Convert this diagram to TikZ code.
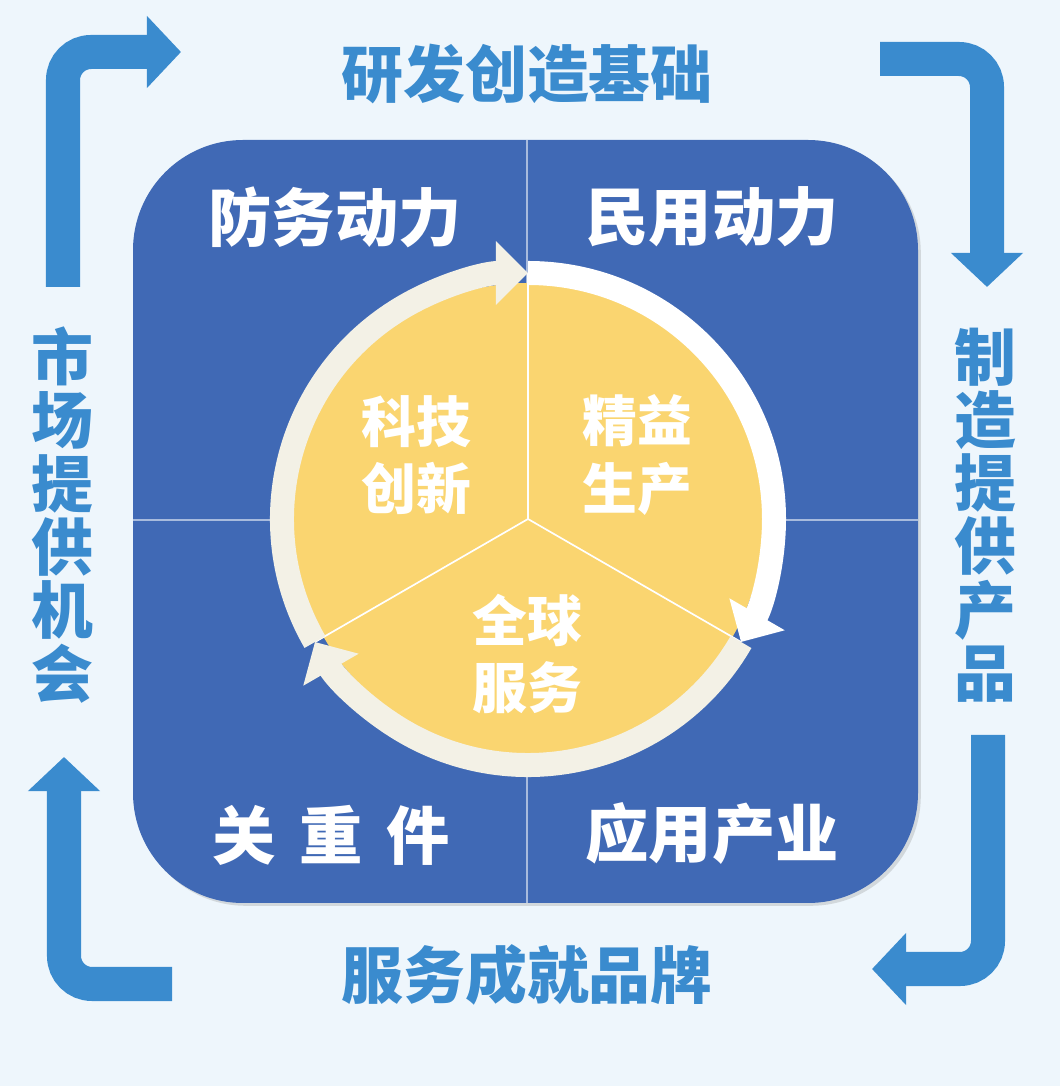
\documentclass[tikz,border=0pt]{standalone}
\usepackage{fontspec}
\newfontfamily\cjk{Noto Sans CJK SC}
\usepackage{xcolor}
\usetikzlibrary{arrows.meta,shadows}

\definecolor{paper}{HTML}{EEF6FC}
\definecolor{arrowblue}{HTML}{3A8BCE}
\definecolor{panel}{HTML}{4069B5}
\definecolor{disc}{HTML}{FAD570}
\definecolor{cream}{HTML}{F3F1E6}

\begin{document}
\begin{tikzpicture}[
        x=0.025cm,y=0.025cm,
        loop/.style={draw=arrowblue,line width=0.85cm,rounded corners=0.7cm,-{Triangle[length=0.85cm,width=1.75cm]}},
        ring/.style={line width=0.6cm,-{Triangle[length=0.8cm,width=1.55cm]}},
        side/.style={text=arrowblue,font=\cjk\bfseries\fontsize{44}{45}\selectfont,align=center},
        quad/.style={text=white,font=\cjk\bfseries\fontsize{45}{45}\selectfont},
        core/.style={text=white,font=\cjk\bfseries\fontsize{39}{48}\selectfont,align=center},
        divider/.style={white,opacity=0.55,line width=0.8pt}
    ]
        \fill[paper] (0,0) rectangle (1060,1086);

        % central panel with its four quarters
        \fill[panel,rounded corners=2.75cm,drop shadow={opacity=0.25,shadow xshift=2pt,shadow yshift=-2pt}] (133,183) rectangle (918,946);
        \draw[divider] (527,183) -- (527,946);
        \draw[divider] (133,566) -- (918,566);

        % disc
        \coordinate (hub) at (528,567);
        \fill[disc] (hub) circle[radius=236];
        \path (hub) ++(90:246) coordinate (r90);
        \path (hub) ++(-30:246) coordinate (r330);
        \path (hub) ++(210:246) coordinate (r210);
        \draw[white,line width=1.2pt] (hub) -- (r90);
        \draw[white,line width=1.2pt] (hub) -- (r330);
        \draw[white,line width=1.2pt] (hub) -- (r210);

        % ring arrows, clockwise
        \draw[ring,draw=cream] (r210) arc[start angle=210,end angle=90,radius=246];
        \draw[ring,draw=white] (r90) arc[start angle=90,end angle=-30,radius=246];
        \draw[ring,draw=cream] (r330) arc[start angle=-30,end angle=-150,radius=246];

        \node[core] (tech) at (416,631) {科技\\创新};
        \node[core] (lean) at (637,631) {精益\\生产};
        \node[core] (glob) at (527,432) {全球\\服务};

        \node[quad] (defence) at (335,869) {防务动力};
        \node[quad] (civil) at (712,869) {民用动力};
        \node[quad] (parts) at (331,251) {关\hspace{0.38em}重\hspace{0.38em}件};
        \node[quad] (industry) at (712,253) {应用产业};

        % outer cycle
        \node[side] (rd) at (527,1012) {研发创造基础};
        \node[side] (make) at (985,571) {制\\造\\提\\供\\产\\品};
        \node[side] (brand) at (527,111) {服务成就品牌};
        \node[side] (market) at (62,571) {市\\场\\提\\供\\机\\会};

        \coordinate (tl-a) at (63,799);
        \coordinate (tl-b) at (181,1034);
        \coordinate (tr-a) at (880,1027);
        \coordinate (tr-b) at (987,799);
        \coordinate (br-a) at (988,351);
        \coordinate (br-b) at (872,117);
        \coordinate (bl-a) at (172,102);
        \coordinate (bl-b) at (64,329);

        \draw[loop] (tl-a) |- (tl-b);
        \draw[loop] (tr-a) -| (tr-b);
        \draw[loop] (br-a) |- (br-b);
        \draw[loop] (bl-a) -| (bl-b);
    \end{tikzpicture}
\end{document}
